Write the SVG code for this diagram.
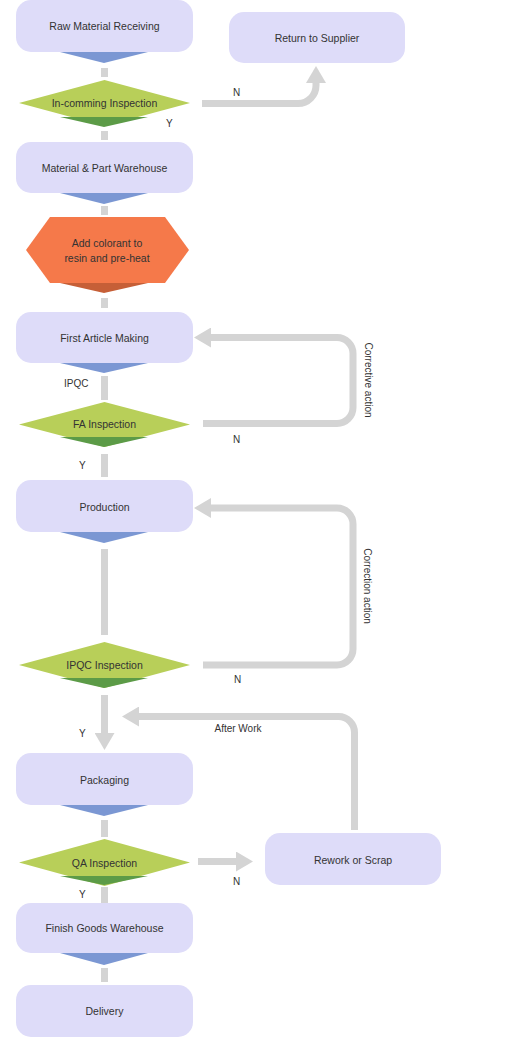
<svg xmlns="http://www.w3.org/2000/svg" width="514" height="1041" viewBox="0 0 514 1041">
<style>
.box{fill:#dedcf9}
.dia{fill:#b8cf59}
.wb{fill:#7b97d3}
.wg{fill:#5c9b47}
.wo{fill:#c65f37}
.hex{fill:#f5794a}
.seg{fill:#d4d4d4}
.con{fill:none;stroke:#d4d4d4;stroke-width:7}
text{font-family:"Liberation Sans",Arial,sans-serif;fill:#333}
.t{font-size:10.5px;text-anchor:middle}
.l{font-size:10px}
</style>
<defs>
<marker id="ah" markerUnits="userSpaceOnUse" markerWidth="17" markerHeight="20" refX="0" refY="10" orient="auto" viewBox="0 0 17 20">
<path d="M0,0 L17,10 L0,20 z" fill="#d4d4d4"/>
</marker>
</defs>
<rect width="514" height="1041" fill="#fff"/>
<g id="connectors">
<rect class="seg" x="101" y="68" width="7" height="9"/>
<rect class="seg" x="101" y="131" width="7" height="9"/>
<rect class="seg" x="101" y="206" width="7" height="9"/>
<rect class="seg" x="101" y="298" width="7" height="10"/>
<rect class="seg" x="101" y="376" width="7" height="24"/>
<rect class="seg" x="101" y="454" width="7" height="23"/>
<rect class="seg" x="101" y="549" width="7" height="86"/>
<rect class="seg" x="101" y="820" width="7" height="17"/>
<rect class="seg" x="101" y="887" width="7" height="17"/>
<rect class="seg" x="101" y="968" width="7" height="14"/>
<path class="con" d="M202,103.5 H298 A18,18 0 0 0 316,85.5 V83" marker-end="url(#ah)"/>
<path class="con" d="M203,423.5 H337 A16,16 0 0 0 353,407.5 V353.5 A16,16 0 0 0 337,337.5 H211" marker-end="url(#ah)"/>
<path class="con" d="M203,665 H337 A16,16 0 0 0 353,649 V524 A16,16 0 0 0 337,508 H211" marker-end="url(#ah)"/>
<path class="con" d="M354.5,830 V732.5 A16,16 0 0 0 338.5,716.5 H139" marker-end="url(#ah)"/>
<path class="con" d="M104.5,695 V733" marker-end="url(#ah)"/>
<path class="con" d="M198,861.5 H236" marker-end="url(#ah)"/>
<text class="l" x="233" y="96">N</text>
<text class="l" x="166" y="127">Y</text>
<text class="l" x="64" y="387">IPQC</text>
<text class="l" x="233" y="443">N</text>
<text class="l" x="79" y="469">Y</text>
<text class="l" x="234" y="683">N</text>
<text class="l" x="79" y="737">Y</text>
<text class="l" x="238" y="732" text-anchor="middle">After Work</text>
<text class="l" x="233" y="885">N</text>
<text class="l" x="79" y="898">Y</text>
<text class="l" transform="translate(365,380) rotate(90)" text-anchor="middle">Corrective action</text>
<text class="l" transform="translate(364,586) rotate(90)" text-anchor="middle">Correction action</text>
</g>
<g id="raw">
<rect class="box" x="16" y="0" width="177" height="52" rx="15"/>
<polygon class="wb" points="60,52 148,52 104,63"/>
<text class="t" x="104.5" y="30">Raw Material Receiving</text>
</g>
<g id="return">
<rect class="box" x="229" y="12" width="176" height="51" rx="15"/>
<text class="t" x="317" y="41.5">Return to Supplier</text>
</g>
<g id="incoming">
<polygon class="dia" points="104.5,80 190,103 104.5,126 19,103"/>
<polygon class="wg" points="60,117 148,117 104,127"/>
<text class="t" x="104.5" y="107">In-comming Inspection</text>
</g>
<g id="warehouse">
<rect class="box" x="16" y="142" width="177" height="51" rx="15"/>
<polygon class="wb" points="60,193 148,193 104,204"/>
<text class="t" x="104.5" y="172">Material &amp; Part Warehouse</text>
</g>
<g id="colorant">
<polygon class="hex" points="50,217 165,217 189,250 165,283 50,283 26,250"/>
<polygon class="wo" points="60,283 148,283 104,293"/>
<text class="t" x="107" y="247">Add colorant to</text>
<text class="t" x="107" y="262">resin and pre-heat</text>
</g>
<g id="firstarticle">
<rect class="box" x="16" y="312" width="177" height="51" rx="15"/>
<polygon class="wb" points="60,363 148,363 104,373"/>
<text class="t" x="104.5" y="342">First Article Making</text>
</g>
<g id="fa">
<polygon class="dia" points="104.5,402 190,424.5 104.5,447 19,424.5"/>
<polygon class="wg" points="60,437 148,437 104,447"/>
<text class="t" x="104.5" y="428">FA Inspection</text>
</g>
<g id="production">
<rect class="box" x="16" y="480" width="177" height="52" rx="15"/>
<polygon class="wb" points="60,532 148,532 104,543"/>
<text class="t" x="104.5" y="511">Production</text>
</g>
<g id="ipqc">
<polygon class="dia" points="104.5,642 190,665 104.5,688 19,665"/>
<polygon class="wg" points="60,678 148,678 104,688"/>
<text class="t" x="104.5" y="669">IPQC Inspection</text>
</g>
<g id="packaging">
<rect class="box" x="16" y="753" width="177" height="52" rx="15"/>
<polygon class="wb" points="60,805 148,805 104,816"/>
<text class="t" x="104.5" y="784">Packaging</text>
</g>
<g id="qa">
<polygon class="dia" points="104.5,839 190,862.5 104.5,886 19,862.5"/>
<polygon class="wg" points="60,876 148,876 104,885"/>
<text class="t" x="104.5" y="866.5">QA Inspection</text>
</g>
<g id="rework">
<rect class="box" x="265" y="833" width="176" height="52" rx="15"/>
<text class="t" x="353" y="864">Rework or Scrap</text>
</g>
<g id="finish">
<rect class="box" x="16" y="903" width="177" height="50" rx="15"/>
<polygon class="wb" points="60,953 148,953 104,965"/>
<text class="t" x="104.5" y="932">Finish Goods Warehouse</text>
</g>
<g id="delivery">
<rect class="box" x="16" y="985" width="177" height="52" rx="15"/>
<text class="t" x="104.5" y="1015">Delivery</text>
</g>
</svg>
